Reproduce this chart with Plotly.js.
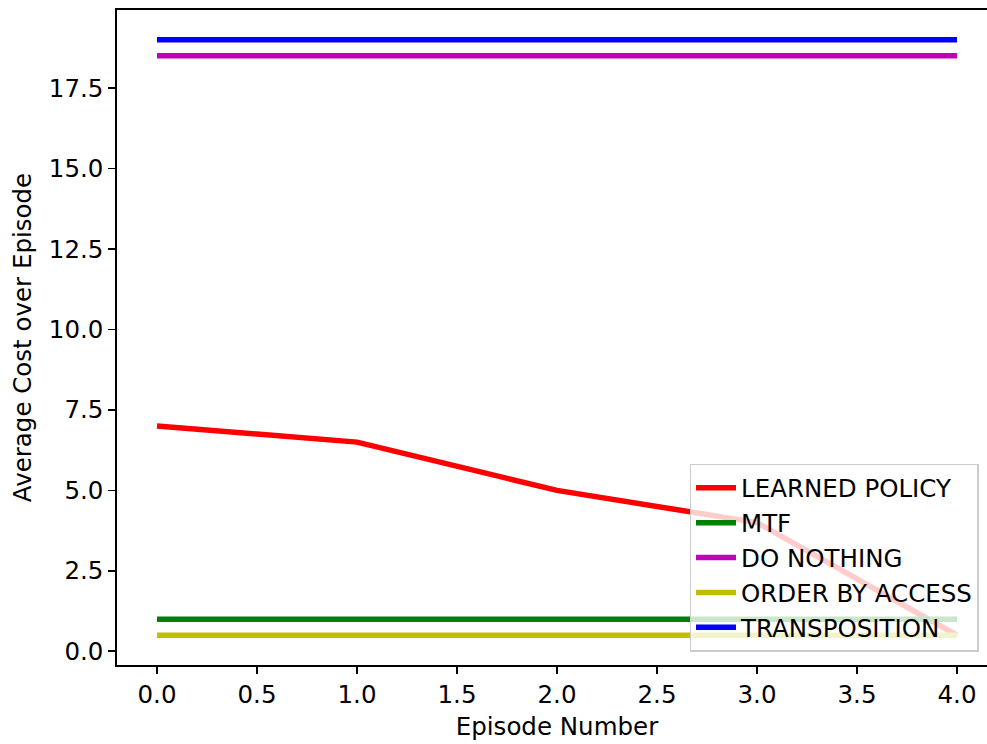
<!DOCTYPE html>
<html>
<head>
<meta charset="utf-8">
<script src="https://cdn.plot.ly/plotly-3.0.1.min.js"></script>
<style>html,body{margin:0;padding:0;overflow:hidden;background:#fff;}</style>
</head>
<body>
<div id="chart"></div>
<script>
const episodes = [0, 1, 2, 3, 4];
const learnedPolicy = [7.0, 6.5, 5.0, 4.0, 0.5];
const mtf = [1.0, 1.0, 1.0, 1.0, 1.0];
const doNothing = [18.5, 18.5, 18.5, 18.5, 18.5];
const orderByAccess = [0.5, 0.5, 0.5, 0.5, 0.5];
const transposition = [19.0, 19.0, 19.0, 19.0, 19.0];
const seriesNames = ["LEARNED POLICY", "MTF", "DO NOTHING", "ORDER BY ACCESS", "TRANSPOSITION"];
const seriesValues = [learnedPolicy, mtf, doNothing, orderByAccess, transposition];
const seriesColors = ["#ff0000", "#008000", "#bf00bf", "#bfbf00", "#0000ff"];

const FONT = "DejaVu Sans, sans-serif";
const FS = 24.5;
const traces = seriesNames.map((n, i) => ({
  x: episodes, y: seriesValues[i], name: n, type: "scatter", mode: "lines",
  line: {color: seriesColors[i], width: 5.5}, legendgroup: "g" + i
}));

const layout = {
  width: 1000, height: 744,
  margin: {l: 117, r: 3, t: 10, b: 79},
  paper_bgcolor: "#fff", plot_bgcolor: "#fff",
  font: {family: FONT, size: FS, color: "#000"},
  xaxis: {
    range: [-0.2, 4.2], tickvals: [0,0.5,1,1.5,2,2.5,3,3.5,4],
    ticktext: ["0.0","0.5","1.0","1.5","2.0","2.5","3.0","3.5","4.0"],
    ticks: "outside", ticklen: 7, tickwidth: 1.7, tickcolor: "#000",
    showline: true, linecolor: "#000", linewidth: 1.7, mirror: true,
    showgrid: false, zeroline: false,
    tickfont: {family: FONT, size: FS},
    title: {text: "Episode Number", font: {family: FONT, size: FS}, standoff: 10}
  },
  yaxis: {
    range: [-0.425, 19.925], tickvals: [0,2.5,5,7.5,10,12.5,15,17.5],
    ticktext: ["0.0","2.5","5.0","7.5","10.0","12.5","15.0","17.5"],
    ticks: "outside", ticklen: 7, tickwidth: 1.7, tickcolor: "#000",
    showline: true, linecolor: "#000", linewidth: 1.7, mirror: true,
    showgrid: false, zeroline: false,
    tickfont: {family: FONT, size: FS},
    title: {text: "Average Cost over Episode", font: {family: FONT, size: FS}, standoff: 10}
  },
  showlegend: true,
  legend: {
    x: 0.979, xanchor: "right", y: 0.02, yanchor: "bottom",
    bgcolor: "rgba(255,255,255,0.8)", bordercolor: "#cccccc", borderwidth: 1.5,
    font: {family: FONT, size: FS, color: "#000"},
    tracegroupgap: 3, traceorder: "normal", itemwidth: 40
  }
};
Plotly.newPlot("chart", traces, layout, {displayModeBar: false, staticPlot: true});
</script>
</body>
</html>
